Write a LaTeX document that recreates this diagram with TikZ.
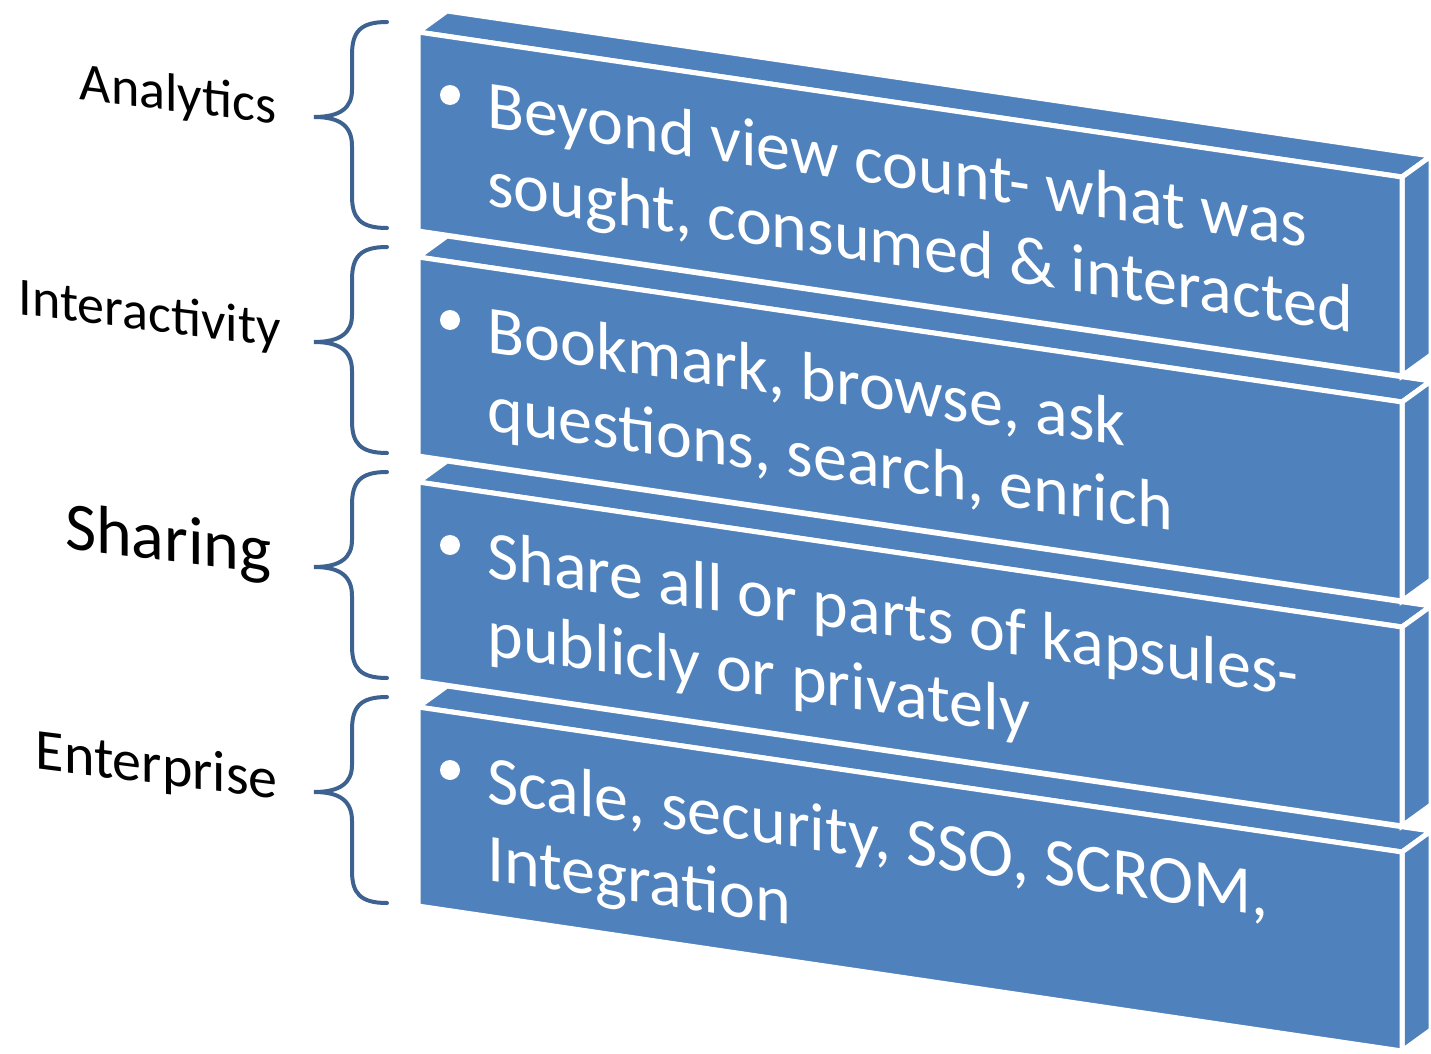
\documentclass[tikz,border=0pt]{standalone}
\usepackage{fontspec}
\setmainfont{Carlito}
\usepackage{xcolor}
\definecolor{kblue}{RGB}{79,129,189}
\definecolor{bracecol}{RGB}{62,98,143}
\tikzstyle{blockface}=[fill=kblue, draw=white, line width=2.5pt, line join=miter]
\tikzstyle{curlybrace}=[draw=bracecol, line width=2pt, line cap=round]
\tikzstyle{blocktext}=[anchor=base west, inner sep=0pt, align=left, text=white, font=\fontsize{34}{39}\selectfont, yslant=-0.147]
\tikzstyle{sidelabel}=[anchor=base east, inner sep=0pt, text=black, yslant=-0.125]
\tikzstyle{bulletdot}=[circle, fill=white, minimum size=10pt, inner sep=0pt]
% one slab: top face, side face, front face
\newcommand{\kblock}[1]{%
  \begin{scope}[shift={(0,#1)}]
    \draw[blockface] (418,32) -- (1402,177) -- (1431,156) -- (447,11) -- cycle;
    \draw[blockface] (1402,177) -- (1431,156) -- (1431,355) -- (1402,376) -- cycle;
    \draw[blockface] (418,32) -- (1402,177) -- (1402,376) -- (418,231) -- cycle;
  \end{scope}}
\newcommand{\kbrace}[1]{%
  \begin{scope}[shift={(0,#1)}]
    \draw[curlybrace] (387,22) .. controls (360,22) and (352,32) .. (352,55) -- (352,90)
      .. controls (352,108) and (340,117) .. (314,117)
      .. controls (340,117) and (352,126) .. (352,146) -- (352,196)
      .. controls (352,218) and (360,228) .. (387,228);
  \end{scope}}

\begin{document}
\begin{tikzpicture}[x=0.5pt,y=-0.5pt]
  \useasboundingbox (0,0) rectangle (1431,1054);

  %% slabs, bottom one first
  \kblock{675}
  \kblock{450}
  \kblock{225}
  \kblock{0}

  %% texts on the slabs (placed at the baseline of the second line)
  \node[bulletdot] (dotA) at (450,95) {};
  \node[blocktext] (txtA) at (487,205) {Beyond view count- what was\\sought, consumed \& interacted};
  \node[bulletdot] (dotB) at (450,320) {};
  \node[blocktext] (txtB) at (487,430) {Bookmark, browse, ask\\questions, search, enrich};
  \node[bulletdot] (dotC) at (450,545) {};
  \node[blocktext] (txtC) at (487,655) {Share all or parts of kapsules-\\publicly or privately};
  \node[bulletdot] (dotD) at (450,770) {};
  \node[blocktext] (txtD) at (487,880) {Scale, security, SSO, SCROM,\\Integration};

  %% braces
  \kbrace{0}
  \kbrace{225}
  \kbrace{450}
  \kbrace{675}

  %% labels
  \node[sidelabel, font=\fontsize{27}{30}\selectfont] (labA) at (277,124) {Analytics};
  \node[sidelabel, font=\fontsize{27}{30}\selectfont] (labB) at (281,347) {Interactivity};
  \node[sidelabel, font=\fontsize{34}{38}\selectfont] (labC) at (272,574) {Sharing};
  \node[sidelabel, font=\fontsize{29}{32}\selectfont] (labD) at (278,799) {Enterprise};
\end{tikzpicture}
\end{document}
